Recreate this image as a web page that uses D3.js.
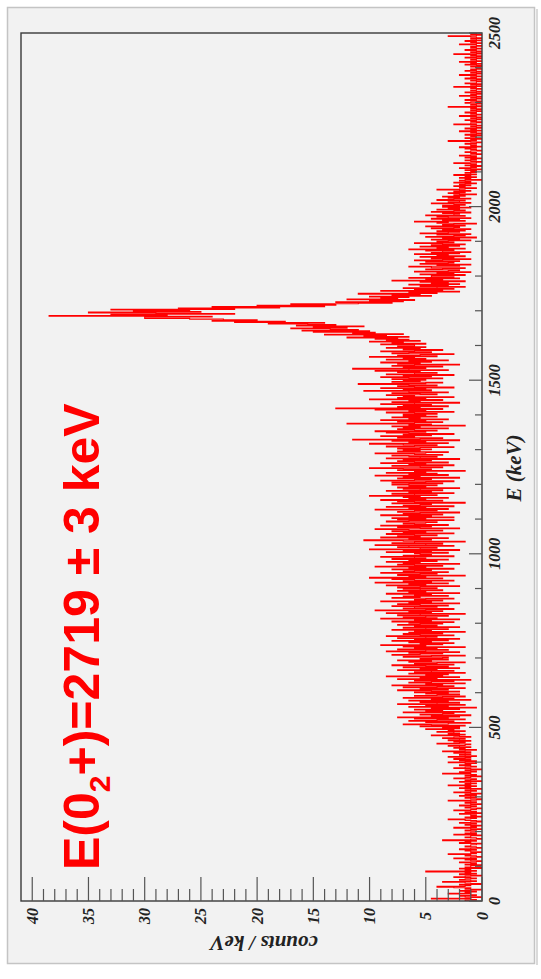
<!DOCTYPE html>
<html>
<head>
<meta charset="utf-8">
<script src="https://cdn.jsdelivr.net/npm/d3@7/dist/d3.min.js"></script>
<style>
  html, body { margin: 0; padding: 0; background: #fff; }
  svg { display: block; }
</style>
</head>
<body>
<div id="chart"></div>
<script>
// Counts per 2 keV bin (one row = 100 keV)
var binWidth = 2;

var bins0to500 = [
  3,1,2,9,2,0,3,4,1,2, 6,2,3,1,4,2,0,3,2,5, 8,3,2,4,0,2,3,7,1,2, 4,3,1,2,5,3,0,2,4,1, 3,2,10,1,3,2,4,0,3,2,
  2,0,3,1,2,4,1,0,2,3, 1,5,2,0,1,3,2,6,1,2, 0,2,3,1,4,2,0,1,3,2, 2,1,0,4,2,3,1,7,2,0, 1,3,2,2,0,5,1,3,2,1,
  1,3,2,0,2,5,1,2,0,3, 2,1,4,2,0,1,3,6,2,1, 3,0,2,1,2,4,0,3,1,2, 5,2,1,0,3,2,1,4,2,0, 2,3,1,2,6,1,0,2,3,1,
  2,4,1,3,0,2,5,2,1,3, 2,0,4,2,3,1,6,2,3,1, 2,4,0,3,2,1,5,3,2,0, 3,1,2,7,2,4,1,2,3,0, 2,5,3,1,2,4,2,3,1,6,
  3,1,4,2,5,3,2,6,1,3, 4,2,3,5,2,7,3,1,4,3, 5,2,4,6,3,2,8,4,3,5, 2,6,4,3,7,5,2,4,9,3, 6,4,5,8,3,6,5,10,4,7
];
var bins500to1000 = [
  4,11,3,9,14,6,2,10,5,13, 8,3,12,6,15,4,9,2,11,7, 5,14,3,10,7,12,4,9,1,13, 6,10,3,15,8,4,11,6,13,2, 9,5,14,7,3,12,8,4,10,6,
  12,4,9,15,6,11,3,14,8,5, 16,7,10,3,13,9,5,12,2,15, 8,11,4,17,7,10,6,13,3,12, 9,5,15,8,11,4,14,6,10,16, 5,12,8,3,13,9,15,6,11,7,
  6,14,9,3,16,11,7,13,4,17, 10,6,15,8,12,3,14,10,18,7, 11,5,13,9,16,6,12,4,15,10, 8,17,5,11,14,7,13,3,12,9, 16,6,10,14,4,12,8,15,11,7,
  13,5,16,9,12,4,18,8,14,10, 6,15,11,3,17,9,13,7,19,10, 5,14,12,8,16,6,11,15,4,13, 9,18,7,12,10,5,16,11,14,6, 12,9,17,4,13,10,15,7,11,14,
  8,15,11,4,17,10,13,6,19,9, 14,5,12,16,7,20,10,13,3,15, 11,8,18,6,14,12,9,16,5,13, 10,19,7,12,15,4,14,11,17,8, 13,6,16,10,12,18,5,14,9,11
];
var bins1000to1600 = [
  12,6,17,9,14,4,20,11,8,15, 13,5,19,10,7,16,12,3,14,21, 9,13,6,18,11,15,8,12,17,5, 14,10,16,7,13,19,4,11,15,9, 18,6,12,14,10,8,17,13,5,15,
  10,16,5,13,9,18,7,14,11,4, 15,12,8,19,6,13,10,17,5,14, 11,9,16,3,12,15,7,18,10,13, 6,14,11,20,8,12,16,5,13,9, 17,7,11,14,4,15,10,13,8,16,
  13,7,16,10,5,18,12,9,15,4, 14,11,19,6,13,8,17,10,12,3, 15,9,14,20,7,11,16,5,13,10, 18,6,12,15,9,14,4,17,11,8, 13,16,7,12,19,10,6,15,11,14,
  9,15,11,5,17,12,8,14,20,6, 13,10,16,4,23,11,7,15,12,18, 9,14,5,13,17,10,19,8,12,15, 6,14,11,16,3,13,9,24,12,7, 15,10,18,6,13,11,16,8,14,10,
  14,8,12,17,5,13,10,19,7,26, 11,15,6,14,9,18,12,4,16,11, 13,7,20,10,15,5,14,12,17,8, 11,16,6,13,21,9,14,10,18,5, 12,15,8,13,22,10,7,16,11,14,
  10,16,7,13,18,9,14,5,17,12, 8,15,11,19,6,13,23,10,14,7, 16,12,4,15,11,18,9,13,6,17, 10,14,12,20,8,15,11,5,16,13, 9,18,12,7,14,11,17,10,15,12
];
var binsPeak = [
  12,18,10,16,14,20,11,17,13,19, 15,24,13,21,17,28,14,23,19,30, 20,32,22,27,34,24,30,21,33,26, 31,38,28,44,35,48,40,46,52,60, 60,48,77,56,66,44,58,70,50,62,
  52,66,44,54,36,48,28,40,26,34, 22,16,26,14,20,12,24,15,18,13, 20,9,16,11,22,8,13,4,18,7, 12,5,14,8,3,11,6,13,4,9, 6,11,3,16,7,10,4,13,5,9
];
var bins1800to2500 = [
  9,3,11,5,8,2,12,6,4,10, 7,3,9,13,4,8,2,11,6,5, 10,4,12,7,2,9,5,11,3,8, 6,12,4,9,2,7,10,5,13,3, 8,6,11,4,9,3,7,12,5,8,
  6,2,9,4,7,1,10,5,3,8, 2,11,6,4,8,3,7,2,9,5, 4,10,3,7,5,1,8,6,12,3, 7,4,9,2,6,8,3,10,5,4, 7,2,9,5,3,8,4,6,2,7,
  4,7,3,5,9,2,6,4,3,8, 5,2,6,4,7,3,5,1,4,6, 3,5,2,4,8,3,1,4,3,5, 2,4,3,1,5,2,3,4,0,3, 2,4,1,3,2,5,1,2,3,1,
  2,1,3,0,2,4,1,2,0,3, 1,2,5,1,0,2,3,1,2,0, 3,1,2,4,1,0,2,1,3,2, 0,1,2,3,1,4,0,2,1,2, 3,1,0,2,6,1,2,0,3,1,
  1,2,0,3,1,0,2,1,4,0, 2,1,3,0,1,2,0,1,5,2, 1,0,2,1,3,0,1,2,0,1, 4,1,0,2,1,3,1,0,2,1, 0,2,1,6,0,1,2,1,0,3,
  2,0,1,3,1,0,2,1,0,4, 1,2,0,1,3,0,1,2,1,0, 2,1,5,0,1,2,0,3,1,1, 0,2,1,0,3,1,2,0,1,4, 1,0,2,1,0,3,1,2,0,1,
  1,2,0,1,3,0,2,1,4,0, 1,2,1,0,3,1,0,2,1,5, 0,1,2,0,1,3,1,0,2,1, 2,0,1,4,1,0,2,1,3,0, 1,2,0,1,2,6,1,0,2,1
];

// Tick labels and titles
var energyTicks = [0, 500, 1000, 1500, 2000, 2500];
var countTicks = [0, 5, 10, 15, 20, 25, 30, 35, 40];
var energyTitle = "E (keV)";
var countTitle = "counts / keV";

var bins = [].concat(bins0to500, bins500to1000, bins1000to1600, binsPeak, bins1800to2500);
// counts / keV
var counts = bins.map(function(n) { return n / binWidth; });

// The figure is a histogram turned 90 degrees: energy runs up the right side,
// counts run from right to left along the bottom.
var W = 541, H = 979;
var plot = {left: 21, right: 482, top: 33, bottom: 901};

var svg = d3.select("#chart").append("svg")
    .attr("width", W)
    .attr("height", H);

// panel background
svg.append("rect")
    .attr("x", 7.5).attr("y", 7.5)
    .attr("width", 527).attr("height", 956)
    .attr("fill", "#f2f2f2")
    .attr("stroke", "#c4c4c4")
    .attr("stroke-width", 1.5);
svg.append("line")
    .attr("x1", 537).attr("x2", 537).attr("y1", 9).attr("y2", 965)
    .attr("stroke", "#dadada").attr("stroke-width", 2);

var yE = d3.scaleLinear().domain([0, 2500]).range([plot.bottom, plot.top]);
var xC = d3.scaleLinear().domain([0, 41]).range([plot.right, plot.left]);

svg.append("clipPath").attr("id", "clip")
    .append("rect")
    .attr("x", plot.left).attr("y", plot.top)
    .attr("width", plot.right - plot.left)
    .attr("height", plot.bottom - plot.top);

// histogram outline as a step line
var points = counts.map(function(c, i) { return [c, i * binWidth]; });
points.push([counts[counts.length - 1], counts.length * binWidth]);

var line = d3.line()
    .x(function(d) { return xC(d[0]); })
    .y(function(d) { return yE(d[1]); })
    .curve(d3.curveStepBefore);

svg.append("path")
    .datum(points)
    .attr("clip-path", "url(#clip)")
    .attr("fill", "none")
    .attr("stroke", "#ff0000")
    .attr("stroke-width", 1.1)
    .attr("d", line);

// frame
svg.append("rect")
    .attr("x", plot.left).attr("y", plot.top)
    .attr("width", plot.right - plot.left)
    .attr("height", plot.bottom - plot.top)
    .attr("fill", "none")
    .attr("stroke", "#3a3a3a")
    .attr("stroke-width", 1.4);

var tickColor = "#555";
var labelFont = "'Liberation Serif', 'DejaVu Serif', serif";

// counts axis (bottom): minor tick every 1, major every 5, pointing inward
svg.append("g").selectAll("line")
    .data(d3.range(0, 41, 1))
    .enter().append("line")
    .attr("x1", function(d) { return xC(d); })
    .attr("x2", function(d) { return xC(d); })
    .attr("y1", plot.bottom)
    .attr("y2", function(d) { return d % 5 === 0 ? plot.bottom - 24 : plot.bottom - 12; })
    .attr("stroke", tickColor)
    .attr("stroke-width", 1.2);

svg.append("g").selectAll("text")
    .data(countTicks)
    .enter().append("text")
    .attr("transform", function(d) { return "translate(" + xC(d) + ",916) rotate(-90)"; })
    .attr("text-anchor", "middle")
    .attr("dominant-baseline", "central")
    .attr("font-family", labelFont)
    .attr("font-style", "italic")
    .attr("font-weight", "bold")
    .attr("font-size", 16)
    .attr("fill", "#222")
    .text(function(d) { return d; });

svg.append("text")
    .attr("transform", "translate(264,936) rotate(180)")
    .attr("text-anchor", "middle")
    .attr("font-family", labelFont)
    .attr("font-style", "italic")
    .attr("font-weight", "bold")
    .attr("font-size", 21)
    .attr("fill", "#222")
    .text(countTitle);

// energy axis (right): minor tick every 100 keV, major every 500 keV
svg.append("g").selectAll("line")
    .data(d3.range(0, 2501, 100))
    .enter().append("line")
    .attr("x1", plot.right)
    .attr("x2", function(d) { return d % 500 === 0 ? plot.right - 13 : plot.right - 7; })
    .attr("y1", function(d) { return yE(d); })
    .attr("y2", function(d) { return yE(d); })
    .attr("stroke", tickColor)
    .attr("stroke-width", 1.2);

svg.append("g").selectAll("text")
    .data(energyTicks)
    .enter().append("text")
    .attr("transform", function(d) { return "translate(494," + yE(d) + ") rotate(-90)"; })
    .attr("text-anchor", "middle")
    .attr("dominant-baseline", "central")
    .attr("font-family", labelFont)
    .attr("font-style", "italic")
    .attr("font-weight", "bold")
    .attr("font-size", 16)
    .attr("fill", "#222")
    .text(function(d) { return d; });

svg.append("text")
    .attr("transform", "translate(521,468) rotate(-90)")
    .attr("text-anchor", "middle")
    .attr("font-family", labelFont)
    .attr("font-style", "italic")
    .attr("font-weight", "bold")
    .attr("font-size", 21)
    .attr("fill", "#222")
    .text(energyTitle);

// red annotation
var note = svg.append("text")
    .attr("transform", "translate(99,870) rotate(-90)")
    .attr("font-family", "'Liberation Sans', Arial, sans-serif")
    .attr("font-weight", "bold")
    .attr("font-size", 50)
    .attr("fill", "#ff0000");
note.append("tspan").text("E(0");
note.append("tspan").attr("dy", 11).attr("font-size", 30).text("2");
note.append("tspan").attr("dy", -11).text("+)=2719 \u00b1 3 keV");
</script>
</body>
</html>
